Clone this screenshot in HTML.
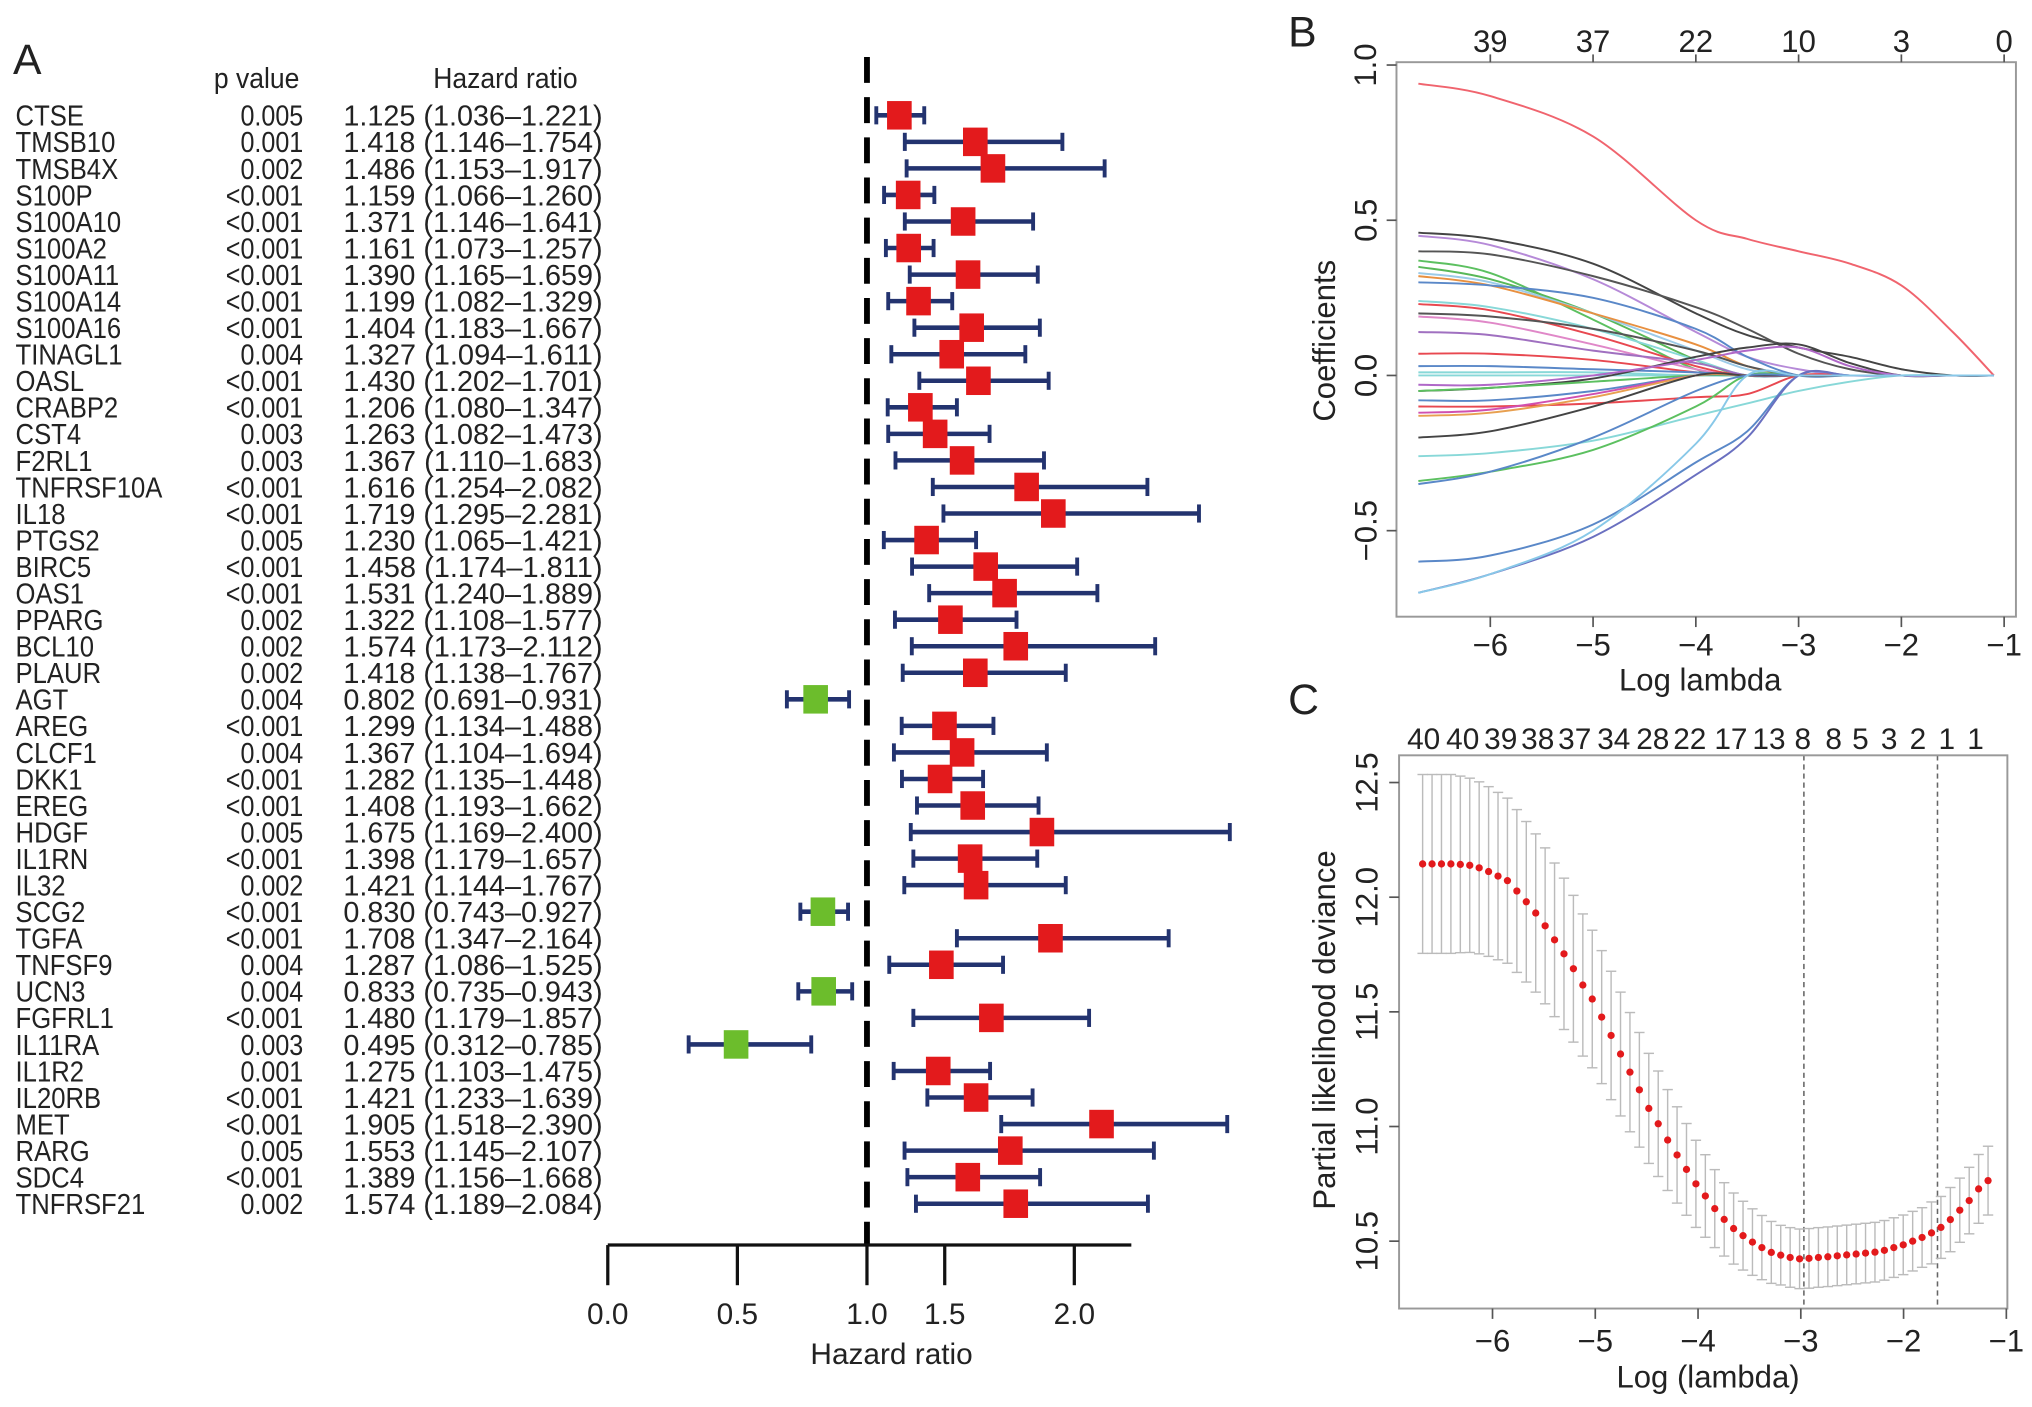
<!DOCTYPE html>
<html><head><meta charset="utf-8"><style>
html,body{margin:0;padding:0;background:#fff}
svg{display:block}
text{font-family:"Liberation Sans",Arial,sans-serif;fill:#222}
</style></head><body>
<svg id="fig" width="2032" height="1407" viewBox="0 0 1568 1086" preserveAspectRatio="none" xmlns="http://www.w3.org/2000/svg"></svg>
<script>
// ---------- Panel A data ----------
const genes = ["CTSE","TMSB10","TMSB4X","S100P","S100A10","S100A2","S100A11","S100A14","S100A16","TINAGL1","OASL","CRABP2","CST4","F2RL1","TNFRSF10A","IL18","PTGS2","BIRC5","OAS1","PPARG","BCL10","PLAUR","AGT","AREG","CLCF1","DKK1","EREG","HDGF","IL1RN","IL32","SCG2","TGFA","TNFSF9","UCN3","FGFRL1","IL11RA","IL1R2","IL20RB","MET","RARG","SDC4","TNFRSF21"];
const pValues = ["0.005","0.001","0.002","<0.001","<0.001","<0.001","<0.001","<0.001","<0.001","0.004","<0.001","<0.001","0.003","0.003","<0.001","<0.001","0.005","<0.001","<0.001","0.002","0.002","0.002","0.004","<0.001","0.004","<0.001","<0.001","0.005","<0.001","0.002","<0.001","<0.001","0.004","0.004","<0.001","0.003","0.001","<0.001","<0.001","0.005","<0.001","0.002"];
const hazardRatios = [1.125,1.418,1.486,1.159,1.371,1.161,1.390,1.199,1.404,1.327,1.430,1.206,1.263,1.367,1.616,1.719,1.230,1.458,1.531,1.322,1.574,1.418,0.802,1.299,1.367,1.282,1.408,1.675,1.398,1.421,0.830,1.708,1.287,0.833,1.480,0.495,1.275,1.421,1.905,1.553,1.389,1.574];
const ciLower = [1.036,1.146,1.153,1.066,1.146,1.073,1.165,1.082,1.183,1.094,1.202,1.080,1.082,1.110,1.254,1.295,1.065,1.174,1.240,1.108,1.173,1.138,0.691,1.134,1.104,1.135,1.193,1.169,1.179,1.144,0.743,1.347,1.086,0.735,1.179,0.312,1.103,1.233,1.518,1.145,1.156,1.189];
const ciUpper = [1.221,1.754,1.917,1.260,1.641,1.257,1.659,1.329,1.667,1.611,1.701,1.347,1.473,1.683,2.082,2.281,1.421,1.811,1.889,1.577,2.112,1.767,0.931,1.488,1.694,1.448,1.662,2.400,1.657,1.767,0.927,2.164,1.525,0.943,1.857,0.785,1.475,1.639,2.390,2.107,1.668,2.084];
const hrTickValues = [0,0.5,1.0,1.3,1.8];
const hrTickLabels = ["0.0","0.5","1.0","1.5","2.0"];

// ---------- Panel B data ----------
const lambdaGridB = [-6.7,-6,-5,-4,-3.5,-3,-2.5,-2,-1.5,-1.1];
const pathColors = ["#f0646e","#444","#b68ad8","#555","#5cc060","#58b858","#9ccbe8","#e89040","#5a88c8","#88d8d8","#e84850","#555","#e088c8","#a070c0","#e84850","#5a88c8","#88d8d8","#444","#b068c8","#5cc060","#5a88c8","#e84850","#d050b0","#e8a050","#444","#88d8d8","#5cc060","#5a88c8","#5a88c8","#6a70c0","#88c8e8"];
const pathValues = [
 [0.94,0.90,0.77,0.50,0.44,0.40,0.36,0.29,0.14,0],
 [0.46,0.44,0.36,0.20,0.13,0.09,0.06,0.02,0,0],
 [0.45,0.42,0.31,0.14,0.06,0.02,0,0,0,0],
 [0.40,0.39,0.32,0.22,0.15,0.07,0.02,0,0,0],
 [0.37,0.33,0.18,0.02,0,0,0,0,0,0],
 [0.35,0.31,0.20,0.05,0,0,0,0,0,0],
 [0.33,0.30,0.20,0.08,0.02,0,0,0,0,0],
 [0.32,0.29,0.20,0.10,0.03,0,0,0,0,0],
 [0.30,0.29,0.25,0.15,0.06,0,0,0,0,0],
 [0.24,0.22,0.15,0.05,0,0,0,0,0,0],
 [0.23,0.21,0.13,0.03,0,0,0,0,0,0],
 [0.20,0.19,0.15,0.08,0.03,0,0,0,0,0],
 [0.19,0.17,0.10,0.02,0,0,0,0,0,0],
 [0.14,0.13,0.08,0.04,0,0,0,0,0,0],
 [0.07,0.07,0.05,0.01,0,0,0,0,0,0],
 [0.03,0.03,0.02,0.01,0,0,0,0,0,0],
 [0.01,0.01,0.01,0.0,0,0,0,0,0,0],
 [-0.05,-0.04,-0.01,0.06,0.09,0.10,0.04,0,0,0],
 [-0.03,-0.03,0.0,0.05,0.08,0.09,0.03,0,0,0],
 [-0.05,-0.04,-0.02,0,0,0,0,0,0,0],
 [-0.08,-0.08,-0.05,0,0,0,0,0,0,0],
 [-0.10,-0.10,-0.09,-0.07,-0.06,0,0,0,0,0],
 [-0.12,-0.11,-0.06,0,0,0,0,0,0,0],
 [-0.13,-0.12,-0.07,0,0,0,0,0,0,0],
 [-0.20,-0.18,-0.10,0,0,0,0,0,0,0],
 [-0.26,-0.25,-0.21,-0.13,-0.09,-0.05,-0.02,0,0,0],
 [-0.34,-0.31,-0.24,-0.10,0,0,0,0,0,0],
 [-0.35,-0.31,-0.20,-0.05,0,0,0,0,0,0],
 [-0.60,-0.58,-0.48,-0.28,-0.18,0,0,0,0,0],
 [-0.70,-0.64,-0.52,-0.32,-0.20,0,0,0,0,0],
 [-0.70,-0.64,-0.50,-0.22,0,0,0,0,0,0]
];
const bTickValues = [-6,-5,-4,-3,-2,-1];
const bTopLabels = ["39","37","22","10","3","0"];
const bYTicks = [-0.5,0.0,0.5,1.0];

// ---------- Panel C data ----------
const cvLambdaStart = -6.68;
const cvLambdaStep = 0.0917;
const cvMean = [12.145,12.145,12.145,12.145,12.143,12.139,12.128,12.112,12.092,12.072,12.027,11.980,11.931,11.875,11.814,11.753,11.688,11.617,11.556,11.477,11.397,11.316,11.237,11.160,11.079,11.012,10.941,10.876,10.813,10.750,10.697,10.642,10.595,10.555,10.524,10.496,10.472,10.451,10.439,10.429,10.423,10.425,10.429,10.432,10.436,10.440,10.444,10.448,10.452,10.460,10.472,10.484,10.500,10.516,10.536,10.560,10.594,10.635,10.677,10.728,10.764];
const cvSE = [0.39,0.39,0.39,0.39,0.385,0.38,0.375,0.37,0.365,0.36,0.355,0.35,0.345,0.34,0.335,0.33,0.32,0.31,0.30,0.29,0.28,0.27,0.26,0.25,0.24,0.23,0.22,0.21,0.20,0.19,0.18,0.17,0.16,0.155,0.15,0.145,0.14,0.135,0.13,0.13,0.13,0.13,0.13,0.13,0.13,0.13,0.13,0.13,0.13,0.13,0.13,0.13,0.13,0.13,0.135,0.135,0.14,0.14,0.145,0.15,0.15];
const cTopLabels = ["40","40","39","38","37","34","28","22","17","13","8","8","5","3","2","1","1"];
const cTopPositions = [-6.67,-6.29,-5.92,-5.56,-5.2,-4.82,-4.44,-4.08,-3.68,-3.31,-2.98,-2.68,-2.42,-2.14,-1.86,-1.58,-1.30];
const cYTicks = [10.5,11.0,11.5,12.0,12.5];
const cVLines = [-2.97,-1.67];

const NS="http://www.w3.org/2000/svg";
const svg=document.getElementById('fig');
function el(tag,attrs,parent){const e=document.createElementNS(NS,tag);for(const k in attrs)e.setAttribute(k,attrs[k]);(parent||svg).appendChild(e);return e;}
function txt(s,attrs,parent){const e=el('text',attrs,parent);e.textContent=s;return e;}
function squeeze(e,f){const w=e.getComputedTextLength();e.setAttribute('textLength',w*f);e.setAttribute('lengthAdjust','spacingAndGlyphs');}

// ===== Panel A =====
const gA=el('g',{});


const xA=v=>469+200*v;
const rowY=i=>89+i*20.49;
let t=txt('A',{x:10,y:57,'font-size':33});

t=txt('p value',{x:198,y:68,'font-size':22,'text-anchor':'middle'},gA);

squeeze(t,0.93);
t=txt('Hazard ratio',{x:390,y:68,'font-size':22,'text-anchor':'middle'},gA);

squeeze(t,0.93);
const ref=el('line',{x1:xA(1),x2:xA(1),y1:44,y2:962,stroke:'#000','stroke-width':4.5,'stroke-dasharray':'20 11'},gA);


genes.forEach((g,i)=>{
  const y=rowY(i);
  const row=el('g',{},gA);
  
  
  let a=txt(g,{x:12,y:y+8,'font-size':22},row);
  
  squeeze(a,0.9);
  a=txt(pValues[i],{x:234,y:y+8,'font-size':22,'text-anchor':'end'},row);
  
  squeeze(a,0.88);
  a=txt(hazardRatios[i].toFixed(3)+' ('+ciLower[i].toFixed(3)+'\u2013'+ciUpper[i].toFixed(3)+')',{x:265,y:y+8,'font-size':22,textLength:200,lengthAdjust:'spacingAndGlyphs'},row);
  
  const x1=xA(ciLower[i]),x2=xA(ciUpper[i]);
  a=el('line',{x1:x1,x2:x2,y1:y,y2:y,stroke:'#23336f','stroke-width':3.5},row);
  
  a=el('line',{x1:x1,x2:x1,y1:y-7,y2:y+7,stroke:'#23336f','stroke-width':3},row);
  
  a=el('line',{x1:x2,x2:x2,y1:y-7,y2:y+7,stroke:'#23336f','stroke-width':3},row);
  
  const hr=hazardRatios[i];
  a=el('rect',{x:xA(hr)-9.5,y:y-11,width:19,height:22,fill:hr<1?'#6cbd2c':'#e31a1c'},row);
  
});
const axA=el('g',{},gA);

el('line',{x1:xA(0),x2:873,y1:961,y2:961,stroke:'#111','stroke-width':2.5},axA);
hrTickValues.forEach((v,i)=>{
  const x=xA(v);
  el('line',{x1:x,x2:x,y1:961,y2:992,stroke:'#111','stroke-width':2.5},axA);
  const l=txt(hrTickLabels[i],{x:x,y:1022,'font-size':23,'text-anchor':'middle'},axA);
  
});
t=txt('Hazard ratio',{x:688,y:1053,'font-size':23,'text-anchor':'middle'},gA);


// ===== Panel B =====
const gB=el('g',{});


const bx=v=>1150+(v+6)*79.3, by=v=>289.8-v*239.6;
t=txt('B',{x:994,y:36,'font-size':33});

function smoothPath(xs,ys){let d='M'+xs[0]+','+ys[0];for(let i=0;i<xs.length-1;i++){const x0=xs[Math.max(i-1,0)],y0=ys[Math.max(i-1,0)],x1=xs[i],y1=ys[i],x2=xs[i+1],y2=ys[i+1],x3=xs[Math.min(i+2,xs.length-1)],y3=ys[Math.min(i+2,xs.length-1)];d+=' C'+(x1+(x2-x0)/6)+','+(y1+(y2-y0)/6)+' '+(x2-(x3-x1)/6)+','+(y2-(y3-y1)/6)+' '+x2+','+y2;}return d;}
let z=el('line',{x1:bx(-6.7),x2:bx(-1.1),y1:by(0),y2:by(0),stroke:'#88d8d8','stroke-width':1.4},gB);

pathValues.forEach((vals,i)=>{
  const p=el('path',{d:smoothPath(lambdaGridB.map(bx),vals.map(by)),fill:'none',stroke:pathColors[i],'stroke-width':1.5},gB);
  
  
});
el('rect',{x:1077.6,y:48,width:478,height:428,fill:'none',stroke:'#999','stroke-width':1.5},gB);
bTickValues.forEach((v,i)=>{
  const x=bx(v);
  el('line',{x1:x,x2:x,y1:476,y2:484,stroke:'#555','stroke-width':1.3},gB);
  let l=txt(String(v).replace('-','\u2212'),{x:x,y:506,'font-size':24,'text-anchor':'middle'},gB);
  
  el('line',{x1:x,x2:x,y1:48,y2:42,stroke:'#555','stroke-width':1.3},gB);
  l=txt(bTopLabels[i],{x:x,y:40,'font-size':24,'text-anchor':'middle'},gB);
  
});
bYTicks.forEach(v=>{
  const y=by(v);
  el('line',{x1:1077.6,x2:1070,y1:y,y2:y,stroke:'#555','stroke-width':1.3},gB);
  const l=txt(v.toFixed(1).replace('-','\u2212'),{x:1062,y:y,'font-size':24,'text-anchor':'middle',transform:'rotate(-90 1062 '+y+')'},gB);
  
});
t=txt('Log lambda',{x:1312,y:533,'font-size':24,'text-anchor':'middle'},gB);

t=txt('Coefficients',{x:1030,y:263,'font-size':24,'text-anchor':'middle',transform:'rotate(-90 1030 263)'},gB);


// ===== Panel C =====
const gC=el('g',{});


const cx=v=>1151.7+(v+6)*79.3, cy=v=>958-(v-10.5)*177;
t=txt('C',{x:994,y:551,'font-size':33});

cVLines.forEach(v=>{
  const l=el('line',{x1:cx(v),x2:cx(v),y1:583,y2:1010,stroke:'#666','stroke-width':1.2,'stroke-dasharray':'4 3'},gC);
  
});
cvMean.forEach((m,i)=>{
  const lam=cvLambdaStart+i*cvLambdaStep, x=cx(lam);
  const yt=cy(m+cvSE[i]), yb=cy(m-cvSE[i]);
  const g=el('g',{},gC);
  
  
  el('line',{x1:x,x2:x,y1:yt,y2:yb,stroke:'#bbb','stroke-width':1.1},g);
  el('line',{x1:x-4,x2:x+4,y1:yt,y2:yt,stroke:'#bbb','stroke-width':1.1},g);
  el('line',{x1:x-4,x2:x+4,y1:yb,y2:yb,stroke:'#bbb','stroke-width':1.1},g);
  el('circle',{cx:x,cy:cy(m),r:2.8,fill:'#e31a1c'},g);
});
el('rect',{x:1079.6,y:583,width:469.4,height:427,fill:'none',stroke:'#999','stroke-width':1.5},gC);
bTickValues.forEach(v=>{
  const x=cx(v);
  el('line',{x1:x,x2:x,y1:1010,y2:1018,stroke:'#555','stroke-width':1.3},gC);
  const l=txt(String(v).replace('-','\u2212'),{x:x,y:1043,'font-size':24,'text-anchor':'middle'},gC);
  
});
cTopLabels.forEach((s,i)=>{
  const l=txt(s,{x:cx(cTopPositions[i]),y:578,'font-size':23,'text-anchor':'middle'},gC);
  
});
cYTicks.forEach(v=>{
  const y=cy(v);
  el('line',{x1:1079.6,x2:1072,y1:y,y2:y,stroke:'#555','stroke-width':1.3},gC);
  const l=txt(v.toFixed(1),{x:1063,y:y,'font-size':24,'text-anchor':'middle',transform:'rotate(-90 1063 '+y+')'},gC);
  
});
t=txt('Log (lambda)',{x:1318,y:1071,'font-size':24,'text-anchor':'middle'},gC);

t=txt('Partial likelihood deviance',{x:1030,y:795,'font-size':24,'text-anchor':'middle',transform:'rotate(-90 1030 795)'},gC);

</script>
</body></html>
